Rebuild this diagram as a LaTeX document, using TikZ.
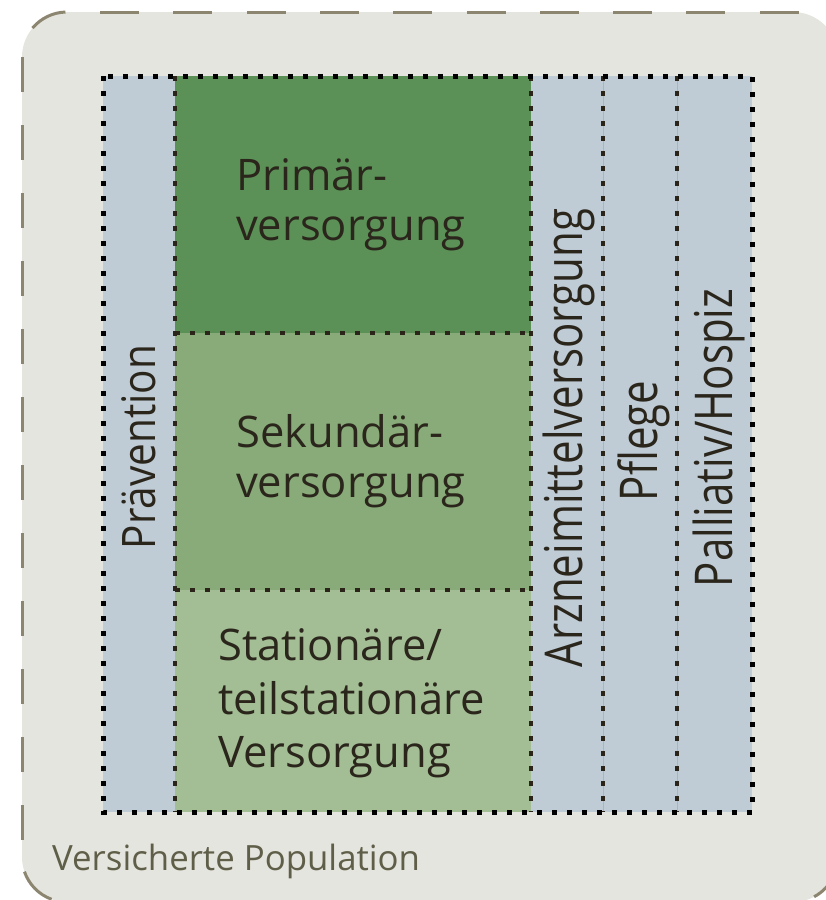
\documentclass[tikz,border=0pt]{standalone}
\usepackage{fontspec}
\setmainfont{Open Sans}
\usepackage{graphicx}
\definecolor{bgc}{HTML}{E5E5DF}
\definecolor{rimc}{HTML}{8C8670}
\definecolor{bluec}{HTML}{BFCBD5}
\definecolor{thinblue}{HTML}{A3B6CF}
\definecolor{gdark}{HTML}{5B9157}
\definecolor{gmid}{HTML}{88AB79}
\definecolor{glight}{HTML}{A3BD95}
\definecolor{txtc}{HTML}{2B261C}
\definecolor{popc}{HTML}{5F5E48}
\definecolor{dotc}{HTML}{2B2418}
\tikzset{
  rim/.style={draw=rimc, line width=3pt, line cap=butt},
  dotline/.style={draw=dotc, line width=4.5pt, dash pattern=on 4.5pt off 10.5pt, line cap=butt},
  frameline/.style={draw=black, line width=5pt, dash pattern=on 5pt off 10pt, line cap=butt},
  htext/.style={text=txtc, font=\fontsize{43.5}{50}\selectfont, inner sep=0pt, anchor=base west},
  vtext/.style={text=txtc, font=\fontsize{42}{50}\selectfont, inner sep=0pt, rotate=90, anchor=base},
}
\begin{document}
\begin{tikzpicture}[x=1pt,y=1pt]
\useasboundingbox (0,0) rectangle (826,-900);
% outer area
\fill[bgc, rounded corners=45pt] (22,-12) rectangle (838,-902);
\draw[rim, dash pattern=on 39pt off 34.3pt] (100,-12) -- (800,-12);
\draw[rim, dash pattern=on 35pt off 33pt] (22,-57) -- (22,-842);
\draw[rim] (67,-57) ++(140:45) arc[start angle=140, end angle=92, radius=45];
\draw[rim] (67,-857) ++(199:45) arc[start angle=199, end angle=250, radius=45];
\draw[rim] (793,-857) ++(-62:45) arc[start angle=-62, end angle=-25, radius=45];
% blocks
\fill[bluec] (103,-76) rectangle (752,-812);
\fill[gdark] (175,-76) rectangle (531,-333);
\fill[gmid] (175,-333) rectangle (531,-590);
\fill[glight] (175,-590) rectangle (531,-812);
\draw[thinblue, line width=1pt] (603,-76) -- (603,-812) (677,-76) -- (677,-812);
% dotted separators
\draw[dotline] (175,-76) -- (175,-812);
\draw[dotline] (531,-76) -- (531,-812);
\draw[dotline] (603,-76) -- (603,-812);
\draw[dotline] (677,-76) -- (677,-812);
\draw[dotline] (175,-333) -- (531,-333);
\draw[dotline] (175,-590) -- (531,-590);
\draw[frameline] (103,-76) rectangle (752,-812);
% texts
\node[htext] (p1) at (236,-190) {Primär-};
\node[htext] (p2) at (236,-240) {versorgung};
\node[htext] (s1) at (236,-447) {Sekundär-};
\node[htext] (s2) at (236,-497) {versorgung};
\node[htext] (t1) at (218,-660) {Stationäre/};
\node[htext] (t2) at (218,-714) {teilstationäre};
\node[htext] (t3) at (218,-767) {Versorgung};
\node[vtext, font=\fontsize{40.5}{50}\selectfont] (pr) at (155,-447) {\scalebox{1}[1.14]{Prävention}};
\node[vtext] (az) at (582,-438) {\scalebox{1}[1.24]{Arzneimittelversorgung}};
\node[vtext] (pf) at (657,-441) {\scalebox{1}[1.24]{Pflege}};
\node[vtext] (pa) at (732,-438) {\scalebox{1}[1.24]{Palliativ/Hospiz}};
\node[text=popc, font=\fontsize{34.8}{40}\selectfont, inner sep=0pt, anchor=base west] (vp) at (52,-870) {Versicherte Population};
\end{tikzpicture}
\end{document}
